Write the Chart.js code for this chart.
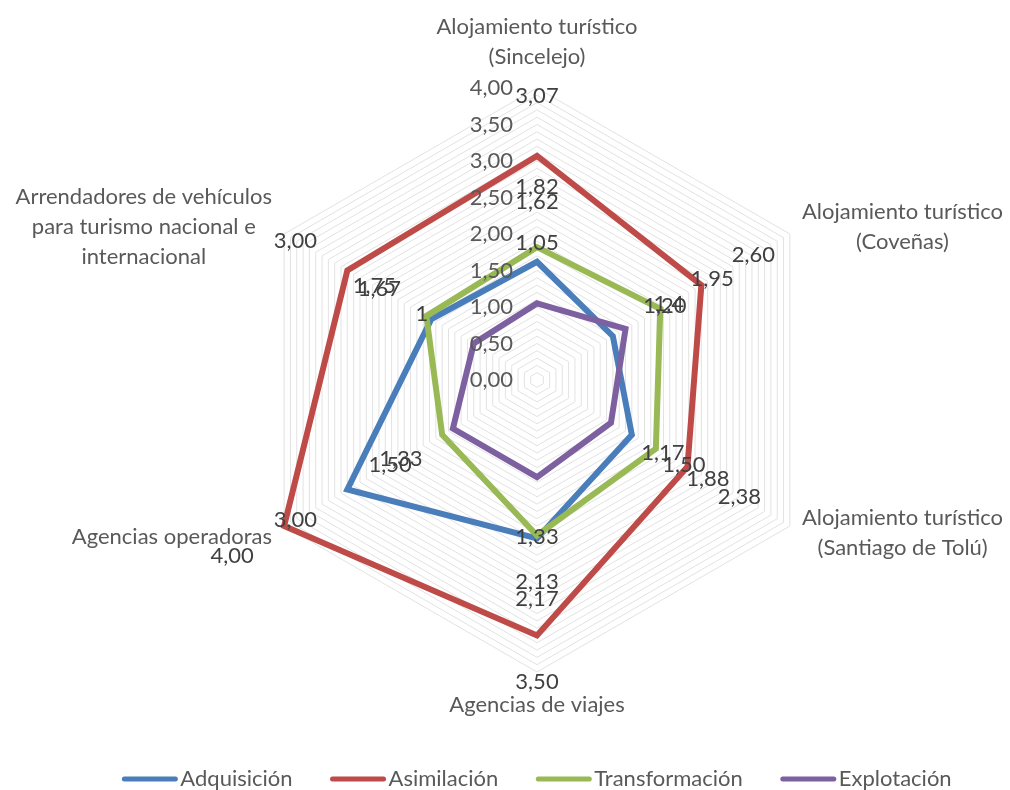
<!DOCTYPE html>
<html>
<head>
<meta charset="utf-8">
<script src="https://cdn.jsdelivr.net/npm/chart.js@4"></script>
<style>
  html, body { margin: 0; padding: 0; background: #ffffff; }
  #wrap { width: 1010px; height: 790px; }
</style>
</head>
<body>
<div id="wrap"><canvas id="radar" width="1010" height="790"></canvas></div>
<script>
// categorias (ejes del radar), en el sentido de las agujas del reloj desde arriba
const categorias = [
    ['Alojamiento turístico', '(Sincelejo)'],
    ['Alojamiento turístico', '(Coveñas)'],
    ['Alojamiento turístico', '(Santiago de Tolú)'],
    ['Agencias de viajes'],
    ['Agencias operadoras'],
    ['Arrendadores de vehículos', 'para turismo nacional e', 'internacional']
];

// valores tal como aparecen en las etiquetas
const adquisicion = ['1,62', '1,20', '1,50', '2,17', '3,00', '1,67'];
const asimilacion = ['3,07', '2,60', '2,38', '3,50', '4,00', '3,00'];
const transformacion = ['1,82', '1,95', '1,88', '2,13', '1,50', '1,75'];
const explotacion = ['1,05', '1,4', '1,17', '1,33', '1,33', '1'];

const tickLabels = ['0,00', '0,50', '1,00', '1,50', '2,00', '2,50', '3,00', '3,50', '4,00'];

const toNum = s => parseFloat(s.replace(',', '.'));

const FONT = 'Lato, "Open Sans", sans-serif';
const GRAY = '#595959';

const series = [
    { label: 'Adquisición', values: adquisicion, color: '#4a7ebb' },
    { label: 'Asimilación', values: asimilacion, color: '#be4b48' },
    { label: 'Transformación', values: transformacion, color: '#98b954' },
    { label: 'Explotación', values: explotacion, color: '#7d60a0' }
];

// distancia (px) de cada etiqueta de dato a su punto; algunas van mas cerca
const labelGap = 60;
const labelGapFix = { '1-3': 46, '2-3': 46, '3-1': 50 };

// etiquetas, ejes y leyenda dibujados a mano (estilo Excel)
const excelLook = {
    id: 'excelLook',
    afterDatasetsDraw(chart) {
        const ctx = chart.ctx;
        const scale = chart.scales.r;
        const R = scale.drawingArea;

        ctx.save();
        ctx.font = '22px ' + FONT;

        // valores del eje
        ctx.fillStyle = GRAY;
        ctx.textAlign = 'right';
        ctx.textBaseline = 'middle';
        tickLabels.forEach(t => {
            const p = scale.getPointPositionForValue(0, toNum(t));
            ctx.fillText(t, p.x - 24, p.y);
        });

        // etiquetas de datos, desplazadas hacia fuera
        ctx.fillStyle = '#404040';
        ctx.textAlign = 'center';
        chart.data.datasets.forEach((ds, k) => {
            ds.texts.forEach((txt, i) => {
                const gap = labelGapFix[k + '-' + i] || labelGap;
                const d = scale.getDistanceFromCenterForValue(ds.data[i]) + gap;
                const p = scale.getPointPosition(i, d);
                ctx.fillText(txt, p.x, p.y);
            });
        });

        // nombres de categoria
        ctx.fillStyle = GRAY;
        const lh = 30;
        categorias.forEach((lines, i) => {
            const p = scale.getPointPosition(i, R + 14);
            const w = Math.max(...lines.map(l => ctx.measureText(l).width));
            const n = lines.length;
            ctx.textAlign = 'center';
            let cx = p.x, y0;
            if (i === 0) {
                y0 = p.y - 17 - (n - 1) * lh;
            } else if (i === 3) {
                y0 = p.y + 19;
            } else {
                cx = (i < 3) ? p.x + w / 2 : p.x - w / 2;
                y0 = p.y + (i === 4 ? 4 : 0) - (n - 1) * lh / 2;
            }
            lines.forEach((l, k) => ctx.fillText(l, cx, y0 + k * lh));
        });
        ctx.restore();
    },
    afterDraw(chart) {
        const ctx = chart.ctx;
        ctx.save();
        ctx.font = '22px ' + FONT;
        ctx.textBaseline = 'middle';
        ctx.textAlign = 'left';
        const lineLen = 55, gap = 3, spacing = 38;
        const items = chart.data.datasets.map(ds => ({
            ds, w: lineLen + gap + ctx.measureText(ds.label).width
        }));
        const total = items.reduce((a, it) => a + it.w, 0) + spacing * (items.length - 1);
        // la leyenda va centrada bajo el radar, no bajo el lienzo
        let x = chart.scales.r.xCenter - total / 2;
        const y = 779;
        items.forEach(it => {
            ctx.strokeStyle = it.ds.borderColor;
            ctx.lineWidth = 5;
            ctx.lineCap = 'round';
            ctx.beginPath();
            ctx.moveTo(x + 2, y);
            ctx.lineTo(x + lineLen - 2, y);
            ctx.stroke();
            ctx.fillStyle = GRAY;
            ctx.fillText(it.ds.label, x + lineLen + gap, y);
            x += it.w + spacing;
        });
        ctx.restore();
    }
};

const ctx = document.getElementById('radar').getContext('2d');
const radarChart = new Chart(ctx, {
    type: 'radar',
    data: {
        labels: categorias,
        datasets: series.map((s, k) => ({
            label: s.label,
            data: s.values.map(toNum),
            texts: s.values,
            borderColor: s.color,
            backgroundColor: s.color,
            borderWidth: 6,
            pointRadius: 0,
            fill: false,
            order: series.length - k // Excel pinta la ultima serie encima
        }))
    },
    options: {
        responsive: false,
        animation: false,
        layout: { padding: { left: 245, right: 181, top: 88, bottom: 118 } },
        scales: {
            r: {
                min: 0,
                max: 4,
                ticks: { stepSize: 0.1, display: false },
                grid: { color: '#e2e2e2', lineWidth: 1 },
                angleLines: { display: false },
                pointLabels: { display: false }
            }
        },
        plugins: {
            legend: { display: false },
            tooltip: { enabled: false }
        }
    },
    plugins: [excelLook]
});
</script>
</body>
</html>
